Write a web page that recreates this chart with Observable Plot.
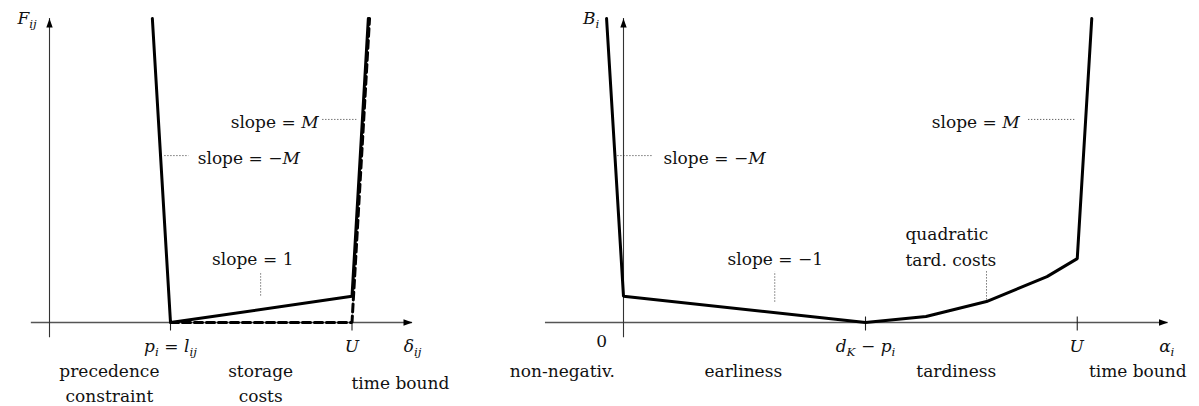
<!DOCTYPE html>
<html><head><meta charset="utf-8">
<script src="https://cdn.jsdelivr.net/npm/d3@7"></script>
<script src="https://cdn.jsdelivr.net/npm/@observablehq/plot@0.6"></script>
<style>
body{margin:0;background:#fff}
#wrap{position:relative;width:1199px;height:406px}
#wrap svg{position:absolute;top:0;overflow:visible}
#wrap svg text{white-space:pre;font-family:"DejaVu Serif"}
</style>
</head><body><div id="wrap"></div>
<script>
// ---------- Left panel: F_ij over delta_ij ----------
const leftCostX  = [1.7, 2, 5, 5.27];
const leftCostY  = [10, 0, 0.86, 10];
const leftBoundX = [2, 5, 5.29];
const leftBoundY = [0, 0, 10];
const leftTicks  = [2, 5];
const leftAxisX  = [-0.3, 6];
const leftAxisY  = [-0.5, 10];
const leftLeadH  = [{x1: 4.51, x2: 5.07, y: 6.68}, {x1: 1.9, x2: 2.3, y: 5.49}];
const leftLeadV  = [{x: 3.49, y1: 0.89, y2: 1.68}];
const leftLabelsMid = [
  {x: 2, y: -0.69, t: "$p_i = l_{ij}$"},
  {x: 5, y: -0.69, t: "$U$"},
  {x: 6, y: -0.69, t: "$δ_{ij}$"},
  {x: 0.99, y: -1.94, t: "precedence\nconstraint"},
  {x: 3.49, y: -1.94, t: "storage\ncosts"},
  {x: 5.8, y: -1.91, t: "time bound"},
  {x: 3.36, y: 2.17, t: "slope$ = 1$"}
];
const leftLabelsStart = [{x: 2.45, y: 5.49, t: "slope$ = −M$"}];
const leftLabelsEnd = [
  {x: 4.45, y: 6.68, t: "slope$ = M$"},
  {x: -0.21, y: 10.1, t: "$F_{ij}$"}
];

// ---------- Right panel: B_i over alpha_i ----------
const rightCostX = [-0.28, 0, 4, 5, 6, 7, 7.5, 7.74];
const rightCostY = [10, 0.86, 0, 0.2, 0.69, 1.51, 2.1, 10];
const rightTicks = [4, 7.5];
const rightAxisX = [-1.29, 9];
const rightAxisY = [-0.5, 10];
const rightLeadH = [{x1: 6.69, x2: 7.47, y: 6.68}, {x1: -0.1, x2: 0.48, y: 5.49}];
const rightLeadV = [{x: 2.5, y1: 0.69, y2: 1.68}, {x: 6.0, y1: 0.76, y2: 1.68}];
const rightLabelsMid = [
  {x: -0.36, y: -0.53, t: "0"},
  {x: 4, y: -0.69, t: "$d_K − p_i$"},
  {x: 7.49, y: -0.69, t: "$U$"},
  {x: 8.98, y: -0.69, t: "$α_i$"},
  {x: -1.01, y: -1.51, t: "non-negativ."},
  {x: 1.98, y: -1.51, t: "earliness"},
  {x: 5.5, y: -1.51, t: "tardiness"},
  {x: 8.5, y: -1.51, t: "time bound"},
  {x: 2.51, y: 2.17, t: "slope$ = −1$"}
];
const rightLabelsStart = [
  {x: 0.66, y: 5.49, t: "slope$ = −M$"},
  {x: 4.66, y: 2.55, t: "quadratic\ntard. costs"}
];
const rightLabelsEnd = [
  {x: 6.55, y: 6.68, t: "slope$ = M$"},
  {x: -0.4, y: 10.1, t: "$B_i$"}
];

// ---------- layout / style ----------
const H = 406, PXX = 60.5, PXY = 30.4, BASE = 322;
const FONT = "DejaVu Serif", FS = 17, MATHSPACE = 5.5;
const pts = (xs, ys) => xs.map((x, i) => ({x, y: ys[i]}));
const arrowSym = {draw(c) { c.moveTo(0, -5); c.lineTo(3.2, 4); c.lineTo(-3.2, 4); c.closePath(); }};
const tickSym = {draw(c) { c.moveTo(0, -6); c.lineTo(0, 8); }};

function panel({left, width, origin, cost, bound, ticks, axX, axY, leadH, leadV, mid, start, end}) {
  const marks = [
    Plot.ruleY([0], {x1: axX[0], x2: axX[1], stroke: "#555", strokeWidth: 1.3}),
    Plot.ruleX([0], {y1: axY[0], y2: axY[1], stroke: "#333", strokeWidth: 1.1}),
    Plot.dot([{x: axX[1], y: 0}], {x: "x", y: "y", symbol: arrowSym, r: 4, fill: "black", stroke: null, rotate: 90, dx: -5}),
    Plot.dot([{x: 0, y: axY[1]}], {x: "x", y: "y", symbol: arrowSym, r: 4, fill: "black", stroke: null, dy: 5}),
    Plot.dot(ticks.map(x => ({x, y: 0})), {x: "x", y: "y", symbol: tickSym, r: 4, stroke: "#222", strokeWidth: 1.1, fill: "none"}),
    Plot.link(leadH, {x1: "x1", x2: "x2", y1: "y", y2: "y", stroke: "#333", strokeWidth: 1, strokeDasharray: "1,2"}),
    Plot.link(leadV, {x1: "x", x2: "x", y1: "y1", y2: "y2", stroke: "#333", strokeWidth: 1, strokeDasharray: "1,2"})
  ];
  if (bound) marks.push(Plot.line(bound, {x: "x", y: "y", stroke: "black", strokeWidth: 3, strokeDasharray: "8,4", strokeLinejoin: "miter"}));
  marks.push(Plot.line(cost, {x: "x", y: "y", stroke: "black", strokeWidth: 3, strokeLinejoin: "miter"}));
  const txt = (data, anchor) => Plot.text(data, {x: "x", y: "y", text: "t", textAnchor: anchor, lineAnchor: "middle", lineHeight: 1.5, fontSize: FS, fontFamily: FONT, fill: "#111"});
  marks.push(txt(mid, "middle"), txt(start, "start"), txt(end, "end"));
  const svg = Plot.plot({
    width, height: H,
    marginLeft: 0, marginRight: 0, marginTop: 0, marginBottom: 0,
    style: {fontFamily: FONT, background: "transparent", overflow: "visible"},
    x: {domain: [-origin / PXX, (width - origin) / PXX], axis: null},
    y: {domain: [-(H - BASE) / PXY, BASE / PXY], axis: null},
    marks
  });
  svg.style.left = left + "px";
  richify(svg);
  return svg;
}

// tiny TeX-like markup: $...$ = math (letters italic, _x / _{xy} subscripts, spaces = math spacing)
function richify(svg) {
  d3.select(svg).selectAll("text").each(function() {
    const s = this.textContent;
    if (!s.includes("$")) return;
    this.textContent = "";
    const sel = d3.select(this);
    let shift = 0, pad = 0;
    const add = (t, italic, sub) => {
      const ts = sel.append("tspan").text(t);
      if (italic) ts.attr("font-style", "italic");
      if (sub) ts.attr("font-size", "70%");
      const target = sub ? 4 : 0;
      if (target !== shift) { ts.attr("dy", target - shift); shift = target; }
      if (pad) { ts.attr("dx", pad); pad = 0; }
    };
    s.split("$").forEach((part, i) => {
      if (i % 2 === 0) { if (part) add(part, false, false); return; }
      for (let k = 0; k < part.length; k++) {
        const c = part[k];
        if (c === " ") { pad += MATHSPACE; continue; }
        if (c === "_") {
          let sub;
          if (part[k + 1] === "{") { const e = part.indexOf("}", k); sub = part.slice(k + 2, e); k = e; }
          else { sub = part[k + 1]; k++; }
          add(sub, true, true);
        } else if (/\p{L}/u.test(c)) add(c, true, false);
        else add(c, false, false);
      }
    });
  });
}

const wrap = document.getElementById("wrap");
wrap.appendChild(panel({
  left: 0, width: 480, origin: 49,
  cost: pts(leftCostX, leftCostY), bound: pts(leftBoundX, leftBoundY), ticks: leftTicks,
  axX: leftAxisX, axY: leftAxisY, leadH: leftLeadH, leadV: leftLeadV,
  mid: leftLabelsMid, start: leftLabelsStart, end: leftLabelsEnd
}));
wrap.appendChild(panel({
  left: 480, width: 719, origin: 143,
  cost: pts(rightCostX, rightCostY), bound: null, ticks: rightTicks,
  axX: rightAxisX, axY: rightAxisY, leadH: rightLeadH, leadV: rightLeadV,
  mid: rightLabelsMid, start: rightLabelsStart, end: rightLabelsEnd
}));
</script>
</body></html>
